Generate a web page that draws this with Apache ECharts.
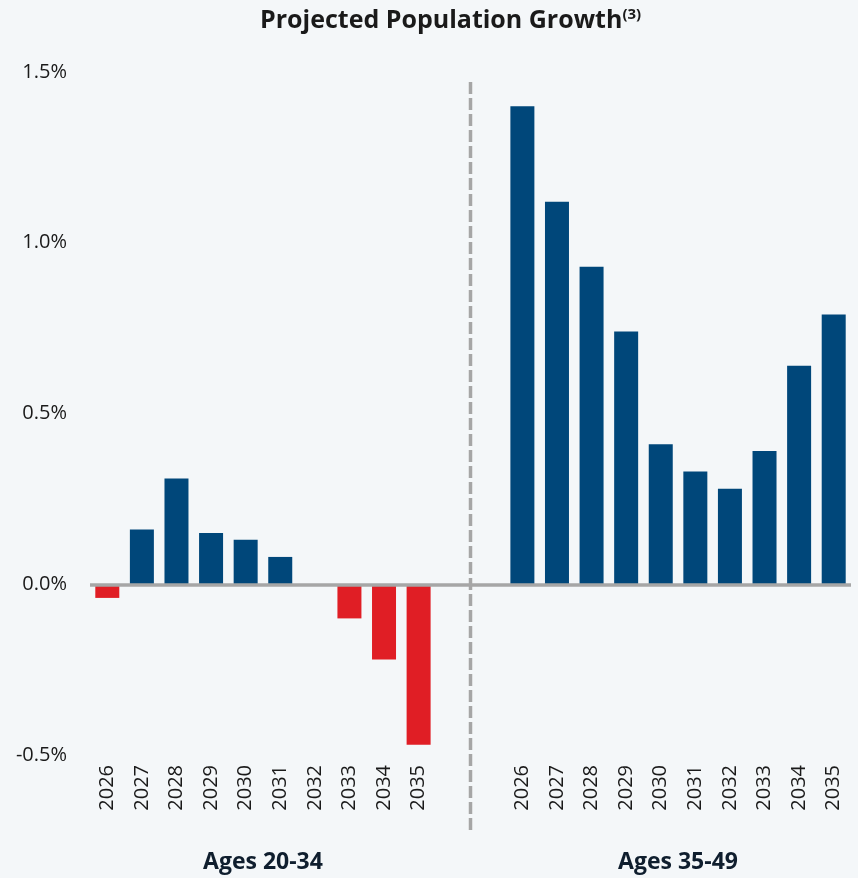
<!DOCTYPE html>
<html>
<head>
<meta charset="utf-8">
<script src="https://cdn.jsdelivr.net/npm/echarts@6/dist/echarts.min.js"></script>
<style>
html,body{margin:0;padding:0;background:#f4f7f9;}
#c{width:858px;height:878px;}
</style>
</head>
<body>
<div id="c"></div>
<script>
const years = ['2026','2027','2028','2029','2030','2031','2032','2033','2034','2035'];
const ages2034 = [-0.04, 0.16, 0.31, 0.15, 0.13, 0.08, 0.0, -0.10, -0.22, -0.47];
const ages3549 = [1.40, 1.12, 0.93, 0.74, 0.41, 0.33, 0.28, 0.39, 0.64, 0.79];
const groupNames = ['Ages 20-34', 'Ages 35-49'];
const yTicks = [-0.5, 0.0, 0.5, 1.0, 1.5];

const categories = years.map(y => 'a' + y).concat(['gap1', 'gap2'], years.map(y => 'b' + y));
const values = ages2034.concat(['-', '-'], ages3549);

const FONT = '"Open Sans", "Noto Sans", sans-serif';
const chart = echarts.init(document.getElementById('c'));
chart.setOption({
  backgroundColor: '#f4f7f9',
  animation: false,
  title: {
    text: '{t|Projected Population Growth}{s|(3)}',
    left: 255,
    top: 2,
    textStyle: {
      rich: {
        t: { fontFamily: FONT, fontWeight: 'bold', fontSize: 25, color: '#1a1a1a' },
        s: { fontFamily: FONT, fontWeight: 'bold', fontSize: 15, color: '#1a1a1a', verticalAlign: 'top', padding: [0, 0, 12, 0] }
      }
    }
  },
  grid: { left: 90, right: 7, top: 72, bottom: 123, containLabel: false },
  xAxis: {
    type: 'category',
    data: categories,
    axisLine: { show: false, onZero: false },
    axisTick: { show: false },
    axisLabel: {
      rotate: 90,
      margin: 10,
      interval: 0,
      fontFamily: FONT,
      fontSize: 20,
      color: '#1a1a1a',
      formatter: v => v.startsWith('gap') ? '' : v.slice(1)
    }
  },
  yAxis: {
    type: 'value',
    min: yTicks[0],
    max: yTicks[yTicks.length - 1],
    interval: 0.5,
    axisLine: { show: false },
    axisTick: { show: false },
    splitLine: { show: false },
    axisLabel: {
      margin: 23,
      fontFamily: FONT,
      fontSize: 20,
      color: '#1a1a1a',
      formatter: v => v.toFixed(1) + '%'
    }
  },
  series: [{
    type: 'bar',
    data: values,
    barWidth: 24,
    itemStyle: {
      color: p => (p.value < 0 ? '#e01e25' : '#00477a')
    },
    markLine: {
      silent: true,
      symbol: 'none',
      label: { show: false },
      lineStyle: { color: '#a6a6a6', width: 3.5, type: 'solid' },
      data: [{ yAxis: 0 }],
      z: 5
    }
  }]
});

function addGraphics() {
  const xa = i => chart.convertToPixel({ xAxisIndex: 0 }, categories[i]);
  const dashX = (xa(10) + xa(11)) / 2;
  const g1 = (xa(4) + xa(5)) / 2;
  const g2 = (xa(16) + xa(17)) / 2;
  chart.setOption({
    graphic: [
      {
        type: 'line',
        shape: { x1: dashX, y1: 82, x2: dashX, y2: 830 },
        style: { stroke: '#a6a6a6', lineWidth: 3.5, lineDash: [12, 4] },
        z: 0
      },
      {
        type: 'text', x: g1, y: 862,
        style: { text: groupNames[0], fontFamily: FONT, fontWeight: 'bold', fontSize: 23, fill: '#0f1e2e', textAlign: 'center', textVerticalAlign: 'middle' }
      },
      {
        type: 'text', x: g2, y: 862,
        style: { text: groupNames[1], fontFamily: FONT, fontWeight: 'bold', fontSize: 23, fill: '#0f1e2e', textAlign: 'center', textVerticalAlign: 'middle' }
      }
    ]
  });
}
addGraphics();
</script>
</body>
</html>
